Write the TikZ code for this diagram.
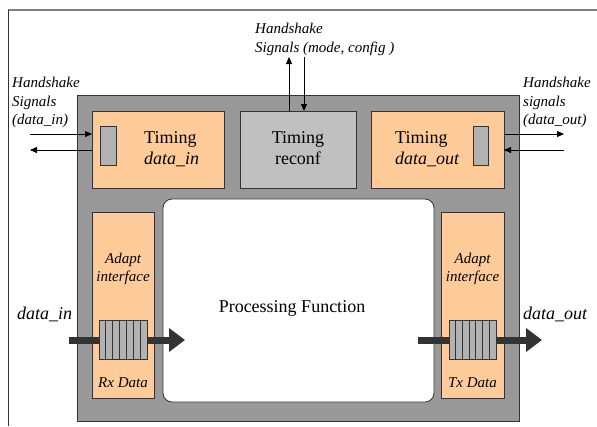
\documentclass[tikz,border=0pt]{standalone}
\usepackage{fontspec}
\setmainfont{Liberation Serif}
\newfontfamily\tnr{Liberation Serif}
\usetikzlibrary{arrows.meta,calc}
\definecolor{boxgray}{HTML}{999999}
\definecolor{peach}{HTML}{FFCC99}
\definecolor{lgray}{HTML}{C0C0C0}
\definecolor{cellgray}{HTML}{B2B2B2}
\definecolor{darkarrow}{HTML}{333333}
\definecolor{edge}{HTML}{333333}
\definecolor{framegray}{HTML}{808080}
\begin{document}
\begin{tikzpicture}[x=1pt,y=-1pt,
  box/.style={draw=edge, line width=0.8pt, anchor=north west, inner sep=0pt, outer sep=0pt},
  hsarrow/.style={-{Triangle[length=7pt,width=6pt]}, line width=0.8pt, black},
  bigarrow/.style={-{Triangle[length=16pt,width=23pt]}, line width=7pt, darkarrow},
  big/.style={font=\tnr\fontsize{18}{21}\selectfont, inner sep=0pt},
  lab/.style={font=\tnr\fontsize{15}{18}\selectfont\itshape, inner sep=0pt},
]
\useasboundingbox (0,0) rectangle (597,426);
% frame
\draw[framegray, line width=1.6pt] (8,10) -- (597,10);
\draw[edge, line width=1pt] (8,10) -- (8,426);

% main block
\node[box, fill=boxgray, minimum width=442pt, minimum height=326pt] (main) at (77,95) {};
\node[box, fill=peach, minimum width=132pt, minimum height=77pt] (tin) at (92,111) {};
\node[box, fill=cellgray, minimum width=16pt, minimum height=39pt] (rin) at (100,126) {};
\node[box, fill=lgray, minimum width=116pt, minimum height=77pt] (reconf) at (240,111) {};
\node[box, fill=peach, minimum width=133pt, minimum height=77pt] (tout) at (371,111) {};
\node[box, fill=cellgray, minimum width=15pt, minimum height=39pt] (rout) at (473,126) {};
\node[box, fill=peach, minimum width=62pt, minimum height=186pt] (ain) at (92,212) {};
\node[box, fill=peach, minimum width=63pt, minimum height=186pt] (aout) at (441,212) {};
\node[box, fill=white, rounded corners=9pt, minimum width=271pt, minimum height=203pt] (proc) at (163,199) {};

% handshake arrows
\coordinate (hin1) at (30,134);
\coordinate (hin2) at (30,150);
\draw[hsarrow] (hin1) -- (tin.west |- hin1);
\draw[hsarrow] (tin.west |- hin2) -- (hin2);
\coordinate (hout1) at (564,134);
\coordinate (hout2) at (564,150);
\draw[hsarrow] (tout.east |- hout1) -- (hout1);
\draw[hsarrow] (hout2) -- (tout.east |- hout2);
\coordinate (hc1) at (289,57);
\coordinate (hc2) at (304,57);
\draw[hsarrow] (reconf.north -| hc1) -- (hc1);
\draw[hsarrow] (hc2) -- (reconf.north -| hc2);

% data arrows
\coordinate (din) at (69,340);
\coordinate (dinend) at (185,340);
\draw[bigarrow] (din) -- (dinend);
\coordinate (dout) at (418,340);
\coordinate (doutend) at (542,340);
\draw[bigarrow] (dout) -- (doutend);

% FIFOs
\node[box, fill=cellgray, minimum width=48pt, minimum height=39pt] (fin) at (99,320) {};
\node[box, fill=cellgray, minimum width=47pt, minimum height=39pt] (fout) at (449,320) {};
\foreach \i in {1,...,6} {
  \draw[edge, line width=0.8pt] ($(fin.north west)+(\i*48/7,0)$) -- ($(fin.south west)+(\i*48/7,0)$);
  \draw[edge, line width=0.8pt] ($(fout.north west)+(\i*47/7,0)$) -- ($(fout.south west)+(\i*47/7,0)$);
}

% texts
\node[lab, anchor=base west] (l1) at (12,87) {Handshake};
\node[lab, anchor=base west] (l2) at (12,106) {Signals};
\node[lab, anchor=base west] (l3) at (12,124) {(data\_in)};
\node[lab, anchor=base west] (c1) at (255,33) {Handshake};
\node[lab, anchor=base west] (c2) at (255,52) {Signals (mode, config )};
\node[lab, anchor=base west] (r1) at (523,87) {Handshake};
\node[lab, anchor=base west] (r2) at (523,106) {signals};
\node[lab, anchor=base west] (r3) at (523,124) {(data\_out)};

\node[big, anchor=base west] (t1) at (144,143) {Timing};
\node[big, anchor=base west] (t2) at (144,164) {\itshape data\_in};
\node[big, anchor=base] (t3) at (298,143) {Timing};
\node[big, anchor=base] (t4) at (298,164) {reconf};
\node[big, anchor=base west] (t5) at (395,143) {Timing};
\node[big, anchor=base west] (t6) at (395,164) {\itshape data\_out};

\node[big, anchor=base] (pf) at (292,312) {Processing Function};

\node[lab, anchor=base] (a1) at (123,263) {Adapt};
\node[lab, anchor=base] (a2) at (123,281) {interface};
\node[lab, anchor=base] (a3) at (123,387) {Rx Data};
\node[lab, anchor=base] (b1) at (472.5,263) {Adapt};
\node[lab, anchor=base] (b2) at (472.5,281) {interface};
\node[lab, anchor=base] (b3) at (472.5,387) {Tx Data};

\node[big, anchor=base west] (di) at (17,319) {\itshape data\_in};
\node[big, anchor=base west] (do) at (523,319) {\itshape data\_out};
\end{tikzpicture}
\end{document}
